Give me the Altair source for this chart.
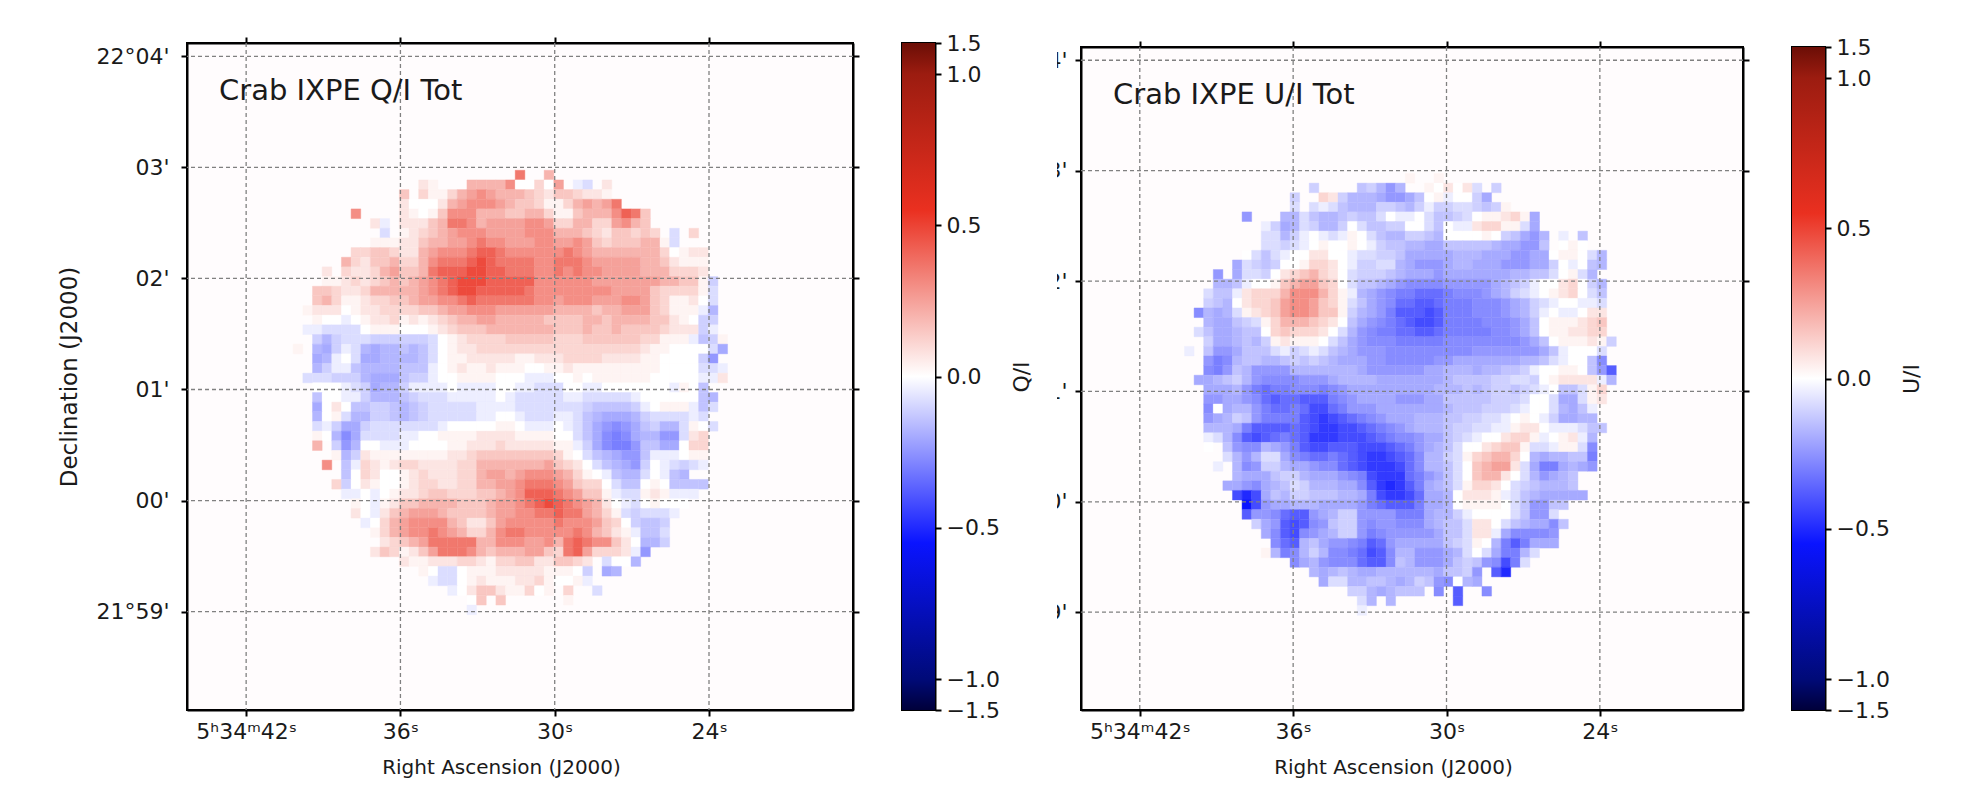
"""
Crab IXPE Q/I and U/I maps with their colour bars
"""

import altair as alt
import numpy as np
import pandas as pd

# one string per map row, first row is 13, first column is 11
# . = no data, 0 = white, 1-9 A = positive levels, a-o = negative levels
first_row = 13
first_col = 11

pos_levels = dict(zip("0123456789A", [0, .03, .07, .11, .15, .2, .25, .3, .36, .42, .48]))
neg_levels = dict(zip("abcdefghijklmno", [-.04, -.08, -.11, -.14, -.17, -.2, -.24, -.27,
                                          -.3, -.34, -.38, -.42, -.46, -.5, -.55]))

q_rows = [
    "..... ..... ..... ..... ...8. .5... ..... ..... ..... .",
    "..... ..... ...21 ...55 55700 306.a b.2.. ..... ..... .",
    "..... ..... .4.31 13567 65554 32443 221.. ..... ..... .",
    "..... ..... .2000 25677 76544 31135 6568. ..... ..... .",
    "..... .7... .2101 47775 55445 53114 55579 84... ..... .",
    "..... ...2a .2224 58875 66667 76335 53367 54... ..... .",
    "..... ....b .1234 56777 66667 77555 43244 343.b .3... .",
    "..... ...11 12245 56678 77666 77667 64344 4551b ..... .",
    "..... .3344 32256 77789 98777 77787 65555 55530 122.. .",
    "..... 53244 53357 8889A 98888 77888 76666 65542 111.. .",
    "...2. 32235 64458 999AA 99888 77878 77666 65553 332.. .",
    "...11 23234 54567 89AAA 99999 77777 76666 66655 441c. .",
    "..443 22355 55567 89AA9 99998 77777 77766 66433 331b. .",
    "..453 11233 44566 77898 88888 77677 76667 76431 120b. .",
    ".1222 01223 33344 56677 76666 66555 54556 66431 11ae. .",
    "..100 a0122 31212 34556 65555 54444 55455 55442 10cc. .",
    ".aabb bb011 10001 23444 55555 55444 54454 44432 22ca. .",
    "..cec bbbcc ccccb 01233 33444 44333 44444 43311 1adc1 .",
    "1.efc abefe ededb 01223 33333 33333 33333 32110 000bf .",
    "..fea 0bffe eeedb 01122 22211 22233 33222 21100 00cg. .",
    "..eca adeee eddda 01211 21110 01121 11111 11100 00bba .",
    ".bbbc cceff fdcca 00111 1000a aa001 01111 11000 00aa2 .",
    "..000 abcfe ecaaa a0aaa a00aa bbb00 aa000 0000a 10d.. .",
    "..d00 aacee edcbb baaaa a0abb bbbaa bbbbb a0000 00de. .",
    "..f02 0ddcc dedcb bbbba aaabb bbbbb cdddd ca011 1adb. .",
    "..e01 beecc dedcb bbbba a00ab bbaab defff ecbbb bab.. .",
    "..bac ffcbb bbbbb a0000 0110a aa0ab dfghg fdcee b10b. .",
    "..10e hfbbb baa00 11112 22211 1100b dfhih feegg b23.. .",
    "..5.c ge00a aa000 01122 23222 2211a cfhii gddff 033.. .",
    "....1 ec211 11111 12234 44444 44310 bdefg gdaaa 011.. .",
    "...7. da321 23322 22335 55555 56432 0bdef gc0ab cba.. .",
    "..... d0320 01232 22335 66567 77653 10ade eb0ad e.... .",
    "....3 c0210 01233 22335 56678 88764 330bd d010d ddd.. .",
    "..... aa0a0 12234 43334 45679 99876 441ab b121a aa... .",
    "..... .10a1 24455 55444 56678 9A987 6520a b0100 0.... .",
    "..... .20a2 45666 54444 56677 88988 6531b cbbba ..... .",
    "..... ..a03 56777 75422 46777 77877 76430 cddc. ..... .",
    "..... ...13 56778 76533 57887 77778 75421 addb. ..... .",
    "..... ....2 34568 88885 57776 67589 87742 0eec. ..... .",
    "..... ...24 31246 88875 45556 64389 63332 ag... ..... .",
    "..... ..... .2112 22332 13344 22443 2.b00 e.... ..... .",
    "..... ..... ...10 bb011 12222 21110 c.fe. ..... ..... .",
    "..... ..... ....a bb012 11122 31001 a.... ..... ..... .",
    "..... ..... ..... .a024 42113 01.3. .b... ..... ..... .",
    "..... ..... ..... ...04 .4... ...1. ..... ..... ..... .",
    "..... ..... ..... ...a. ..... ..... ..... ..... ..... .",
]

u_rows = [
    "..... ..... ..... ..... ...1. .1... ..... ..... ..... .",
    "..... ..... ...c. ...dc ege.. 10202 b.c.. ..... ..... .",
    "..... ..... .c..3 2ceee fggfd 01a00 cf... ..... ..... .",
    "..... ..... .b.ba bdeee ccdec accbb cdc1. ..... ..... .",
    "..... .g... eebde edcdd b0aa0 bddcb 01123 1f... ..... .",
    "..... ...ac febce ec0bd dcc00 bd0aa 23311 bf... ..... .",
    "..... ...bb eca0a ba10b deecc de000 010cd fge.a .d... .",
    "..... ...bb cba01 0010a cddee ffddd ddeff ggd.0 10... .",
    "..... .0bdb a0022 00abb ccdff fffee efffg gff01 10be. .",
    "..... fbcdc 00133 20acc bbefg ggfee fffgg gffc0 a0de. .",
    "...g. fbbc0 23453 20bcc cdeff fgfff ffffe eddb0 1be.. .",
    "...ee da001 45664 30bdd efghh hhggg ggfed ca002 30ce. .",
    "..bdd a2333 57775 31aef ghiij jjihh hgfec ba012 30bd. .",
    "..cde 02334 67764 31bdf ghjjk kjiii hhhgf ecba0 0aab. .",
    ".hefe b1234 67764 41cef gikkk lkiii hhhgf eca0a a022. .",
    "..eff dcb13 55543 20dfg hijkl lkiii ihhhg fd011 1234. .",
    ".bdff edd03 43332 0begh iijjk kjiii iihhg fd011 2233. .",
    "..cff edec1 21110 bdfgh hhiii iihhh hhhhh gfd01 1121c .",
    "a.dgg fdddb acbab defgg ghhhh hhhhh ggggg ggfda 000b. .",
    "..gih eddee dcdcd efffg ghhhh hggff fffff eedba 00dh. .",
    "..hig deggg geeee eeefg ggggg ffeee feedd ca001 10dgk .",
    ".ffed ceghh hhggg feeee fffff ffedd ddccb bc012 222ae .",
    "..fff egiji ihhhi hgfff fffff feeed edccd cba0d db13. .",
    "..ggf fghjk jjkkk ihgff ffggg ffddd ddccc b00bf fb12. .",
    "..h0f eegij jijll jiggg fffff ffedd dcccb a00be fda.. .",
    "..gfe cdgii iiklm lkjih gfffe eeddc cbba0 10acf fee.. .",
    "..eee fikkk kjklm mllkj ihgfe eedcc bbaa1 220aa abdd. .",
    "..abe hklkj ijkmm mlllk jihhg ffdcb a0023 31a01 2ae.. .",
    "..0.d ghhef gikll kkkll lkjig fedb0 02344 1bba1 1bh.. .",
    "....b egebb fhijj ijklm mlkjh eecb1 34553 0efee ddi.. .",
    "...a. ehgcc effgh hjklm mmljh eedb0 45662 bfiif efg.. .",
    "..... efffd cceff fghil mmmji gfdb0 45520 begfe d.... .",
    "....f fghfe dbcee effhk mnmki fedb1 3320b cdeee d.... .",
    "..... lnlfd eccdd deefi lmmlj ffe02 221ab defff ff... .",
    "..... .olgf feeef fffgi jkkki ffe01 1110b dggdd ..... .",
    "..... .kggh jkkgf eccgg ggiii feeca 0000b dggb. ..... .",
    "..... ..cfg klkhg dccgh gghhh feddb 220bd effhd ..... .",
    "..... ...fh klhgf eccgi hgggg gfddb 22afh hhhg. ..... .",
    "..... ....h jkedf gghik jgfff ffdcb 10eik ifff. ..... .",
    "..... ...1e ihece hhijl kheeg ggfeb 0bfii eb... ..... .",
    "..... ..... .hfeg hhhjk khdeg ggfdc dghli b.... ..... .",
    "..... ..... ...ef edeff eeeee efddc g.kn. ..... ..... .",
    "..... ..... ....f bbeed defec dgh0e f.... ..... ..... .",
    "..... ..... ..... ..cce feddd .h.k. .h... ..... ..... .",
    "..... ..... ..... ...be .e... ...k. ..... ..... ..... .",
    "..... ..... ..... ...a. ..... ..... ..... ..... ..... .",
]

ra_ticks = [42, 36, 30, 24]
ra_labels = ["5ʰ34ᵐ42ˢ", "36ˢ", "30ˢ", "24ˢ"]
dec_ticks = [4, 3, 2, 1, 0, -1]
dec_labels = ["22°04'", "03'", "02'", "01'", "00'", "21°59'"]
dec_labels_cut = ["4'", "3'", "2'", "1'", "0'", "9'"]

cbar_ticks = [1.5, 1.0, 0.5, 0.0, -0.5, -1.0, -1.5]
cmap_values = [-1.5, -1.0, -0.55, 0, 0.55, 1.0, 1.5]
cmap_colors = ["#00003a", "#000a78", "#0a14ff", "#ffffff", "#ea3020", "#9c1c10", "#6b0e06"]

FONT = "DejaVu Sans"
INK = "#1a1a1a"
RA_DOMAIN = [44.3, 18.4]
DEC_DOMAIN = [-1.886, 4.12]
RA_STEP = 0.3754
DEC_STEP = 0.0870

color_scale = alt.Scale(domain=cmap_values, range=cmap_colors, interpolate="rgb")


def cells(rows, ra0, dec0):
    out = []
    for i, row in enumerate(rows):
        for j, ch in enumerate(row.replace(" ", "")):
            if ch == ".":
                continue
            value = pos_levels[ch] if ch in pos_levels else neg_levels[ch]
            c = first_col + j
            r = first_row + i
            out.append({
                "ra": ra0 - c * RA_STEP, "ra2": ra0 - (c + 1) * RA_STEP,
                "dec": dec0 - r * DEC_STEP, "dec2": dec0 - (r + 1) * DEC_STEP,
                "v": value,
            })
    return pd.DataFrame(out)


def panel(rows, ra0, title, w, h, labels, ytitle, title_y, cut=False):
    x_scale = alt.Scale(domain=RA_DOMAIN)
    y_scale = alt.Scale(domain=DEC_DOMAIN)
    ra_expr = "[" + ",".join(f'"{s}"' for s in ra_labels) + "][(42-datum.value)/6]"
    dec_expr = "[" + ",".join(f'"{s}"' for s in labels) + "][4-datum.value]"

    image = alt.Chart(cells(rows, ra0, 4.105)).mark_rect(strokeWidth=0.4).encode(
        x=alt.X("ra:Q", scale=x_scale, title="Right Ascension (J2000)",
                axis=alt.Axis(values=ra_ticks, labelExpr=ra_expr, grid=False, titlePadding=15,
                              titleFontSize=20, titleX=w / 2 - 19)),
        x2="ra2:Q",
        y=alt.Y("dec:Q", scale=y_scale, title=ytitle,
                axis=alt.Axis(values=dec_ticks, labelExpr=dec_expr, grid=False, titlePadding=14,
                              titleFontSize=23, labelPadding=8 if cut else 12)),
        y2="dec2:Q",
        color=alt.Color("v:Q", scale=color_scale, legend=None),
        stroke=alt.Stroke("v:Q", scale=color_scale, legend=None),
    )
    grid_style = dict(color="#808080", strokeWidth=1.3, strokeDash=[4, 3])
    vlines = alt.Chart(pd.DataFrame({"ra": ra_ticks})).mark_rule(**grid_style).encode(x=alt.X("ra:Q", scale=x_scale))
    hlines = alt.Chart(pd.DataFrame({"dec": dec_ticks})).mark_rule(**grid_style).encode(y=alt.Y("dec:Q", scale=y_scale))
    label = alt.Chart(pd.DataFrame({"t": [title]})).mark_text(
        align="left", baseline="middle", font=FONT, fontSize=29, color=INK
    ).encode(text="t:N", x=alt.value(32), y=alt.value(title_y))
    parts = [image, vlines, hlines, label]
    if cut:
        mask = alt.Chart(pd.DataFrame({"a": [0]})).mark_rect(color="white").encode(
            x=alt.value(-45), x2=alt.value(-24), y=alt.value(-8), y2=alt.value(h + 8)
        )
        parts.append(mask)

    # ticks on the top and right sides
    other = alt.Chart(pd.DataFrame({"ra": ra_ticks[:4], "dec": dec_ticks[:4]})).mark_point(opacity=0).encode(
        x=alt.X("ra:Q", scale=x_scale, title=None,
                axis=alt.Axis(orient="top", values=ra_ticks, labels=False, grid=False)),
        y=alt.Y("dec:Q", scale=y_scale, title=None,
                axis=alt.Axis(orient="right", values=dec_ticks, labels=False, grid=False)),
    )
    return alt.layer(alt.layer(*parts), other).resolve_scale(
        x="independent", y="independent"
    ).properties(width=w, height=h)


def colorbar(title, h):
    ramp = np.interp(cmap_values, [-1.5, -1, 1, 1.5], [0, 31, h - 31, h]) / h
    fill = alt.Gradient(
        gradient="linear", x1=0, x2=0, y1=1, y2=0,
        stops=[alt.GradientStop(offset=float(o), color=c) for o, c in zip(ramp, cmap_colors)],
    )
    return alt.Chart(pd.DataFrame({"lo": [-1.5], "hi": [1.5]})).mark_rect(color=fill).encode(
        x=alt.value(0), x2=alt.value(33),
        y=alt.Y("lo:Q", title=title,
                scale=alt.Scale(domain=[-1.5, -1, 1, 1.5], range=[h, h - 31, 31, 0]),
                axis=alt.Axis(orient="right", values=cbar_ticks, grid=False, titleAngle=270,
                              titlePadding=34, titleFontSize=22, labelFontSize=22,
                              labelExpr="replace(format(datum.value,'.1f'),'-','−')")),
        y2="hi:Q",
    ).properties(width=33, height=h)


left = alt.hconcat(
    panel(q_rows, 44.3, "Crab IXPE Q/I Tot", 666, 667, dec_labels, "Declination (J2000)", 48),
    colorbar("Q/I", 667),
    spacing=49, bounds="flush",
)
spacer = alt.Chart(pd.DataFrame({"a": [0]})).mark_point(opacity=0).encode(
    x=alt.value(0), y=alt.value(0)
).properties(width=1, height=1, view=alt.ViewConfig(strokeWidth=0, fill="white"))
right = alt.vconcat(
    spacer,
    alt.hconcat(
        panel(u_rows, 44.38, "Crab IXPE U/I Tot", 662, 663, dec_labels_cut, None, 48, cut=True),
        colorbar("U/I", 663),
        spacing=49, bounds="flush",
    ),
    spacing=3, bounds="flush",
)

chart = alt.hconcat(left, right, spacing=1).properties(
    padding={"left": 49, "top": 23, "right": 5, "bottom": 5}, background="white"
).configure_view(
    fill="#fffcfd", stroke="black", strokeWidth=2
).configure_axis(
    labelFont=FONT, titleFont=FONT, labelFontSize=22, titleFontSize=21,
    titleFontWeight="normal", labelColor=INK, titleColor=INK,
    tickColor="black", tickWidth=2, tickSize=6, labelPadding=5,
    domainColor="black", domainWidth=2,
)

chart.save("out.html", embed_options={"renderer": "svg", "actions": False})
